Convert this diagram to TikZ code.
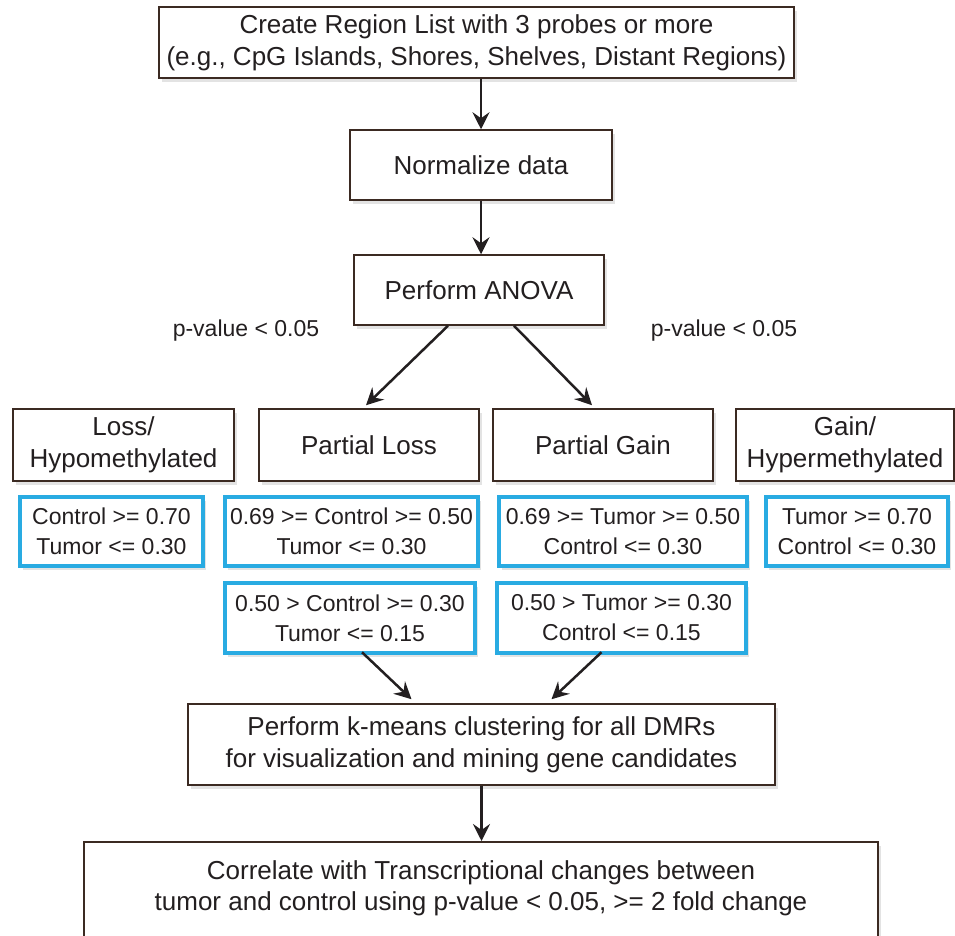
\documentclass[tikz,border=0pt]{standalone}
\usepackage{fontspec}
\setmainfont{Liberation Sans}
\usetikzlibrary{arrows.meta,shadows}
\definecolor{txt}{HTML}{231F20}
\definecolor{brd}{HTML}{3B2A22}
\definecolor{cy}{HTML}{29ABE2}
\begin{document}
\begin{tikzpicture}[x=1pt,y=-1pt,
  shad/.style={drop shadow={opacity=0.22, shadow xshift=3pt, shadow yshift=-4pt}},
  box/.style={draw=brd, line width=1.5pt, fill=white, text=txt, align=center,
    inner sep=0pt, font=\fontsize{26}{32}\selectfont, shad},
  cbox/.style={draw=cy, line width=4.5pt, fill=white, text=txt, align=center,
    inner sep=0pt, font=\fontsize{23}{30}\selectfont, shad},
  lbl/.style={text=txt, inner sep=0pt, font=\fontsize{23}{28}\selectfont},
  plain/.style={text=txt, inner sep=0pt, align=center, font=\fontsize{26}{31}\selectfont},
  arr/.style={draw=txt, line width=2.5pt, -{Stealth[length=17pt,width=17pt,inset=6pt]}}
]
\useasboundingbox (0,0) rectangle (955,936);
\fill[white] (0,0) rectangle (955,936);

\node[box, minimum width=635, minimum height=71] (top) at (476.5,42.5)
  {Create Region List with 3 probes or more\\(e.g., CpG Islands, Shores, Shelves, Distant Regions)};
\node[box, minimum width=262, minimum height=70] (norm) at (481,165) {Normalize data};
\node[box, minimum width=250, minimum height=70] (anova) at (479,290) {Perform ANOVA};

\node[lbl] (pl) at (246,331) {p-value < 0.05};
\node[lbl] (pr) at (724,331) {p-value < 0.05};

\node[box, minimum width=221, minimum height=72] (loss) at (123.5,445) {Loss/\\Hypomethylated};
\node[box, minimum width=220, minimum height=72] (ploss) at (369,445) {Partial Loss};
\node[box, minimum width=220, minimum height=72] (pgain) at (603,445) {Partial Gain};
\node[box, minimum width=218, minimum height=72] (gain) at (845,445) {Gain/\\Hypermethylated};

\node[cbox, minimum width=183, minimum height=69] (b1) at (111.5,531.5) {Control >= 0.70\\Tumor <= 0.30};
\node[cbox, minimum width=253, minimum height=69] (b2) at (351.5,531.5) {0.69 >= Control >= 0.50\\Tumor <= 0.30};
\node[cbox, minimum width=248, minimum height=69] (b3) at (623,531.5) {0.69 >= Tumor >= 0.50\\Control <= 0.30};
\node[cbox, minimum width=182, minimum height=69] (b4) at (857,531.5) {Tumor >= 0.70\\Control <= 0.30};
\node[cbox, minimum width=250, minimum height=70] (b5) at (350,618) {0.50 > Control >= 0.30\\Tumor <= 0.15};
\node[cbox, minimum width=249, minimum height=70] (b6) at (621.5,618) {0.50 > Tumor >= 0.30\\Control <= 0.15};

\node[box, minimum width=587, minimum height=81] (kmeans) at (481.5,744.5)
  {Perform k-means clustering for all DMRs\\for visualization and mining gene candidates};

\node[box, minimum width=794, minimum height=140, anchor=north] (corr) at (481,841) {};
\node[plain] (corrtext) at (481,888)
  {Correlate with Transcriptional changes between\\tumor and control using p-value < 0.05, >= 2 fold change};

\draw[arr] (top.south -| norm.north) -- (norm.north);
\draw[arr] (norm.south) -- (norm.south |- anova.north);
\draw[arr] ([xshift=-31pt]anova.south) -- ([xshift=-3pt,yshift=3pt]ploss.north);
\draw[arr] ([xshift=35pt]anova.south) -- ([xshift=-11pt,yshift=3pt]pgain.north);
\draw[arr] ([xshift=12pt,yshift=3pt]b5.south) -- ([xshift=-70pt,yshift=4pt]kmeans.north);
\draw[arr] ([xshift=-20pt,yshift=3pt]b6.south) -- ([xshift=70pt,yshift=4pt]kmeans.north);
\draw[arr] (kmeans.south) -- (corr.north -| kmeans.south);
\end{tikzpicture}
\end{document}
